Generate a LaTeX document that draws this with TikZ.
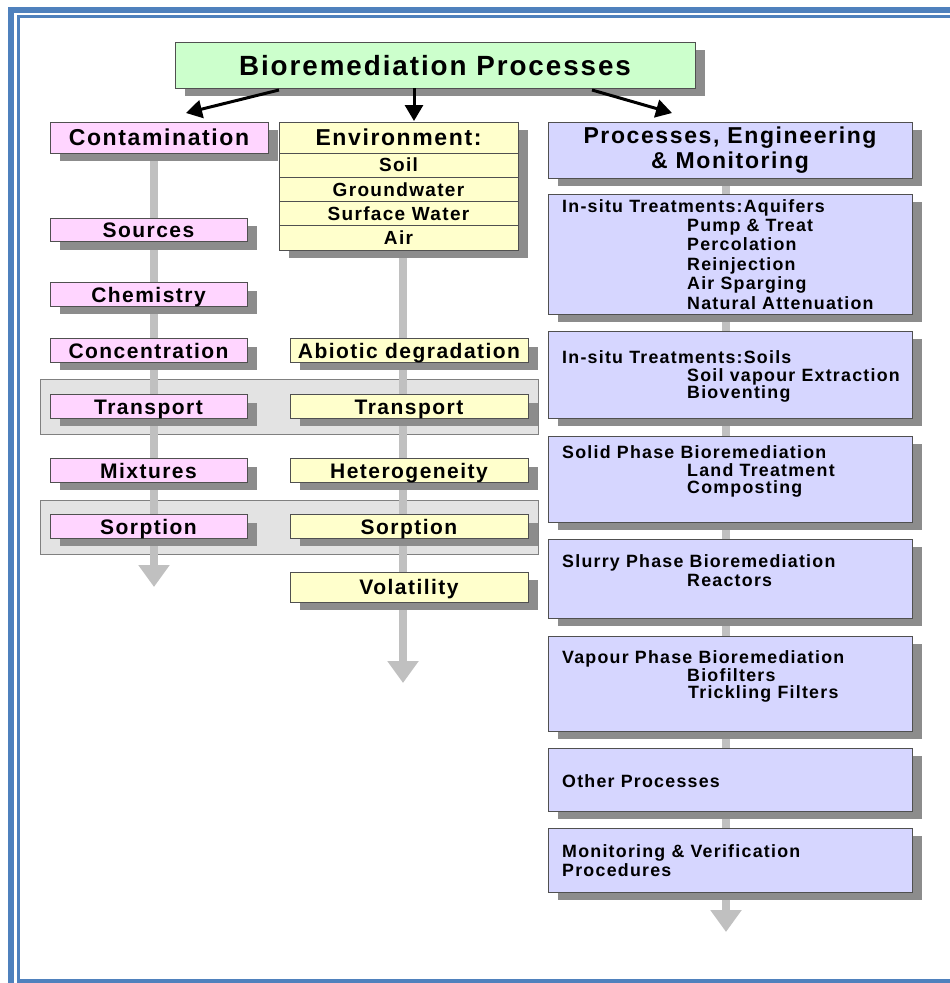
\documentclass[tikz,border=0pt]{standalone}
\usepackage{fontspec}
\setmainfont{Liberation Sans}[LetterSpace=7]
\usetikzlibrary{arrows.meta,positioning,shadows}
\definecolor{frameblue}{HTML}{4F81BD}
\definecolor{greenfill}{HTML}{CCFFCC}
\definecolor{pinkfill}{HTML}{FFD5FF}
\definecolor{yellowfill}{HTML}{FFFFCC}
\definecolor{lilacfill}{HTML}{D6D6FF}
\definecolor{shadowgray}{HTML}{8C8C8C}
\definecolor{bandgray}{HTML}{E3E3E3}
\definecolor{trunkgray}{HTML}{C0C0C0}
\definecolor{edgegray}{HTML}{505050}
\pgfdeclarelayer{bands}
\pgfdeclarelayer{trunks}
\pgfsetlayers{bands,trunks,main}

\begin{document}
\begin{tikzpicture}[x=1pt,y=-1pt,
    box/.style={draw=edgegray,line width=1pt,inner sep=0pt,outer sep=0pt,
      drop shadow={shadow xshift=10pt,shadow yshift=-8pt,opacity=1,fill=shadowgray}},
    head/.style={box,minimum height=31pt,text height=16.5pt,text depth=0pt,
      font=\fontsize{23}{25}\selectfont\bfseries},
    pinkbox/.style={box,fill=pinkfill,minimum width=197pt,minimum height=23.5pt,
      text height=15pt,text depth=0pt,font=\fontsize{21}{23}\selectfont\bfseries},
    yellowbox/.style={box,fill=yellowfill,minimum width=238pt,minimum height=23.5pt,
      text height=15pt,text depth=0pt,font=\fontsize{21}{23}\selectfont\bfseries},
    envrow/.style={box,fill=yellowfill,minimum width=239pt,minimum height=24.25pt,
      text height=13.6pt,text depth=0pt,font=\fontsize{19}{21}\selectfont\bfseries},
    lilacbox/.style={box,fill=lilacfill,minimum width=364pt},
    body/.style={anchor=base west,inner sep=0pt,font=\fontsize{17.8}{19}\selectfont\bfseries},
    band/.style={draw=gray,fill=bandgray,line width=1pt,minimum width=498pt},
    trunk/.style={trunkgray,line width=8pt,-{Triangle[width=30pt,length=22pt]}},
    toparrow/.style={line width=3pt,-{Triangle[width=18pt,length=16pt]}}]
  \useasboundingbox (0,0) rectangle (950,983);

  \draw[frameblue,line width=6pt] (11,983) -- (11,10) -- (950,10);
  \draw[frameblue,line width=3.5pt] (950,16.5) -- (18.5,16.5) -- (18.5,981) -- (950,981);

  \node[box,fill=greenfill,minimum width=520pt,minimum height=46pt,text height=20pt,
    text depth=0pt,font=\fontsize{27.8}{29}\selectfont\bfseries] (title) at (435,65)
    {Bioremediation Processes};

  \node[head,fill=pinkfill,minimum width=218pt] (contam) at (159,137.5) {Contamination};
  \node[head,fill=yellowfill,minimum width=239pt] (env) at (398.5,137.5) {Environment:};
  \node[envrow,below=0pt of env] (soil) {Soil};
  \node[envrow,below=0pt of soil] (gw) {Groundwater};
  \node[envrow,below=0pt of gw] (sw) {Surface Water};
  \node[envrow,below=0pt of sw] (air) {Air};
  \node[lilacbox,minimum height=56pt,align=center,font=\fontsize{23}{25}\selectfont\bfseries]
    (pem) at (730,150) {Processes, Engineering\\\& Monitoring};

  \draw[toparrow] ([xshift=-156pt,yshift=-2pt]title.south) -- ([xshift=27pt,yshift=9pt]contam.north);
  \draw[toparrow] ([xshift=-21pt]title.south) -- ([xshift=15.5pt,yshift=1pt]env.north);
  \draw[toparrow] ([xshift=157pt,yshift=-2pt]title.south) -- ([xshift=-58pt,yshift=9pt]pem.north);

  \begin{pgfonlayer}{bands}
    \node[band,minimum height=55pt] (band1) at (289,406.5) {};
    \node[band,minimum height=54pt] (band2) at (289,527) {};
  \end{pgfonlayer}

  \foreach \nm/\yy/\lbl in {sources/229.75/Sources,chem/294.5/Chemistry,
      conc/350.5/Concentration,ltrans/406.5/Transport,mix/470.5/Mixtures,lsorp/526.5/Sorption}
    \node[pinkbox] (\nm) at (148.5,\yy) {\lbl};

  \foreach \nm/\yy/\lbl in {abiotic/350.5/Abiotic degradation,mtrans/406.5/Transport,
      hetero/470.5/Heterogeneity,msorp/526.5/Sorption}
    \node[yellowbox] (\nm) at (409,\yy) {\lbl};
  \node[yellowbox,minimum height=30pt] (volat) at (409,587) {Volatility};

  \node[lilacbox,minimum height=120pt] (aquif) at (730,254) {};
  \node[lilacbox,minimum height=87pt] (soils) at (730,374.5) {};
  \node[lilacbox,minimum height=86pt] (solid) at (730,479) {};
  \node[lilacbox,minimum height=79pt] (slurry) at (730,578.5) {};
  \node[lilacbox,minimum height=95pt] (vapour) at (730,683.5) {};
  \node[lilacbox,minimum height=63pt] (other) at (730,779.5) {};
  \node[lilacbox,minimum height=64pt] (monit) at (730,860) {};

  \node[body] (aquif0) at (562,212) {In-situ Treatments:Aquifers};
  \foreach \lbl [count=\i] in {Pump \& Treat,Percolation,Reinjection,Air Sparging,Natural Attenuation}
    \node[body] (aquif\i) at (687,{212+19.4*\i}) {\lbl};
  \node[body] (soils0) at (562,363) {In-situ Treatments:Soils};
  \node[body] (soils1) at (687,381.5) {Soil vapour Extraction};
  \node[body] (soils2) at (687,398.5) {Bioventing};
  \node[body] (solid0) at (562,458) {Solid Phase Bioremediation};
  \node[body] (solid1) at (687,476) {Land Treatment};
  \node[body] (solid2) at (687,493) {Composting};
  \node[body] (slurry0) at (562,567) {Slurry Phase Bioremediation};
  \node[body] (slurry1) at (687,586) {Reactors};
  \node[body] (vapour0) at (562,663) {Vapour Phase Bioremediation};
  \node[body] (vapour1) at (687,681) {Biofilters};
  \node[body] (vapour2) at (688,698) {Trickling Filters};
  \node[body] (other0) at (562,787) {Other Processes};
  \node[body] (monit0) at (562,857) {Monitoring \& Verification};
  \node[body] (monit1) at (562,876) {Procedures};

  \begin{pgfonlayer}{trunks}
    \coordinate (ltip) at (154,587);
    \coordinate (mtip) at (403,683);
    \coordinate (rtip) at (726,932);
    \draw[trunk] (contam.south -| ltip) -- (ltip);
    \draw[trunk] (air.south -| mtip) -- (mtip);
    \draw[trunk] (pem.south -| rtip) -- (rtip);
  \end{pgfonlayer}
\end{tikzpicture}
\end{document}
